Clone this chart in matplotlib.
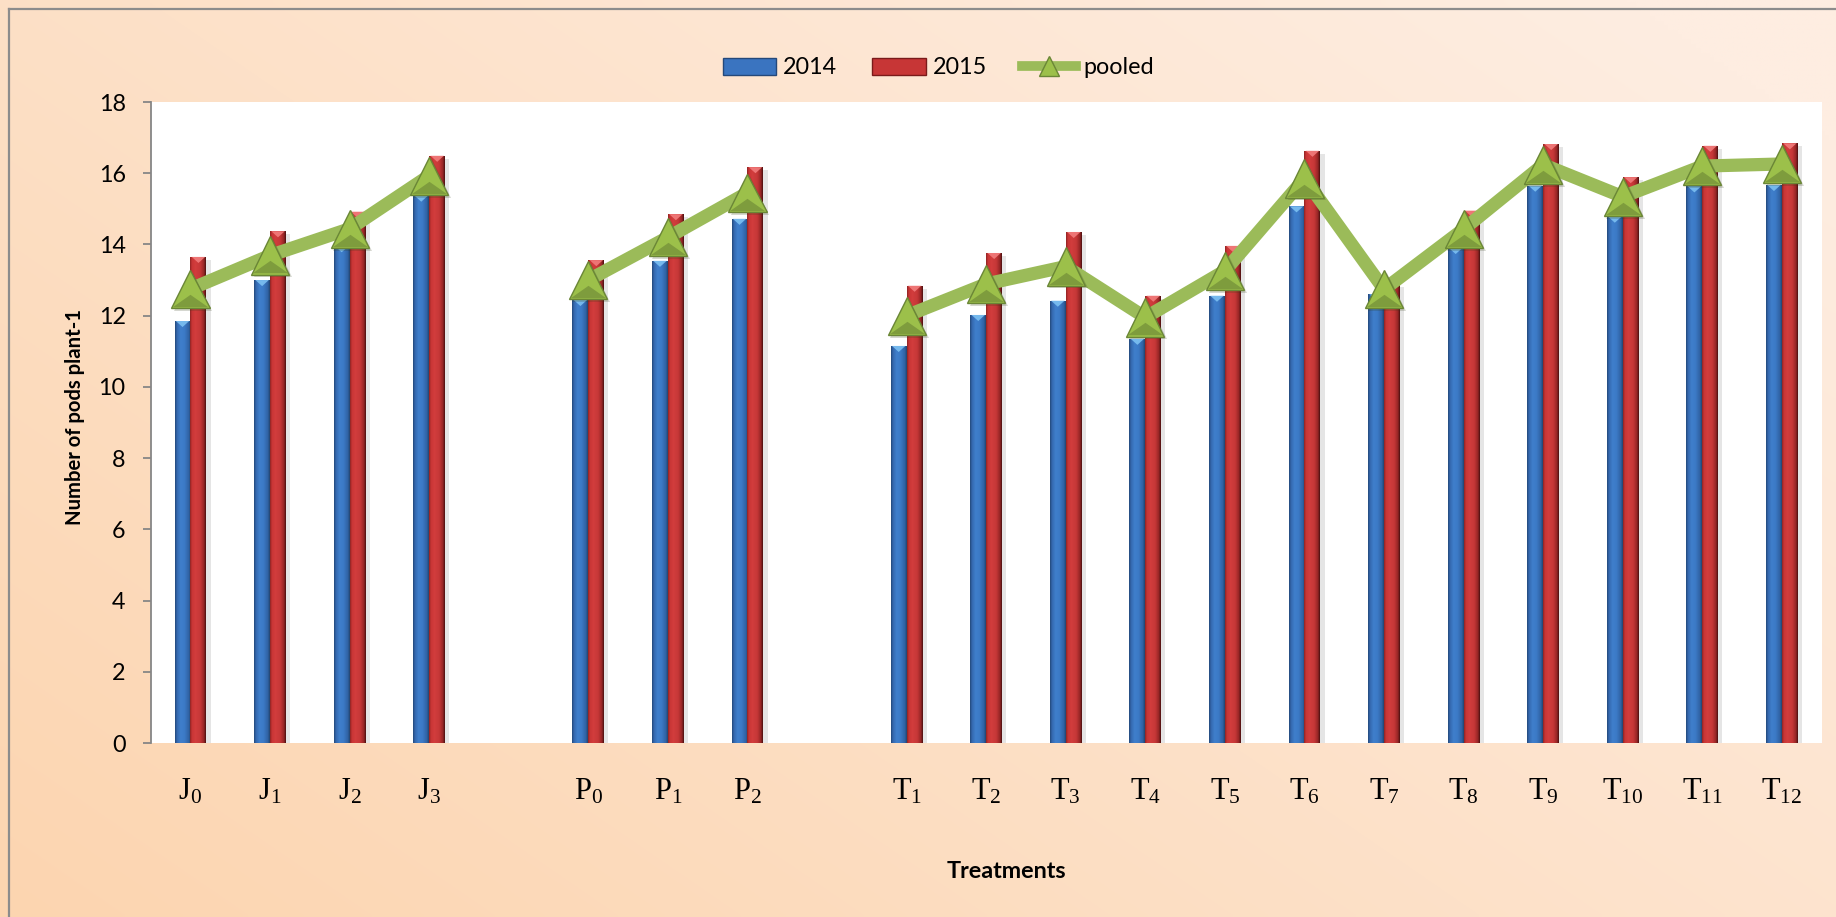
import numpy as np
import matplotlib
matplotlib.use("Agg")
import matplotlib.pyplot as plt
from matplotlib.colors import LinearSegmentedColormap, to_rgb
from matplotlib.patches import Polygon, Patch
from matplotlib.lines import Line2D
from matplotlib.path import Path
import matplotlib.patheffects as pe

# ---------------- data ----------------
treatments = ["J0", "J1", "J2", "J3",
              "P0", "P1", "P2",
              "T1", "T2", "T3", "T4", "T5", "T6", "T7", "T8", "T9", "T10", "T11", "T12"]
pods_2014 = [11.85, 13.00, 13.95, 15.37,
             12.44, 13.54, 14.72,
             11.15, 12.02, 12.42, 11.35, 12.56, 15.07, 12.60, 13.90, 15.65, 14.78, 15.63, 15.67]
pods_2015 = [13.65, 14.37, 14.92, 16.49,
             13.56, 14.85, 16.17,
             12.84, 13.76, 14.35, 12.56, 13.96, 16.63, 12.87, 14.95, 16.82, 15.89, 16.77, 16.84]
pods_pooled = [12.75, 13.69, 14.44, 15.93,
               13.00, 14.20, 15.45,
               12.00, 12.89, 13.38, 11.95, 13.26, 15.85, 12.74, 14.43, 16.24, 15.34, 16.20, 16.26]
series_names = ["2014", "2015", "pooled"]
y_ticks = [0, 2, 4, 6, 8, 10, 12, 14, 16, 18]
y_title = "Number of pods plant-1"
x_title = "Treatments"

# ---------------- fonts ----------------
plt.rcParams["font.family"] = ["Lato", "DejaVu Sans"]
plt.rcParams["mathtext.fontset"] = "custom"
plt.rcParams["mathtext.rm"] = "Liberation Serif"
plt.rcParams["mathtext.it"] = "Liberation Serif:italic"
plt.rcParams["mathtext.bf"] = "Liberation Serif:bold"

# slot positions: one empty slot between treatment families
positions, groups = [], []
slot = 0
prev = None
for name in treatments:
    fam = name[0]
    if prev is None or fam != prev:
        if prev is not None:
            slot += 1
        groups.append([])
    positions.append(slot)
    groups[-1].append(len(positions) - 1)
    slot += 1
    prev = fam
n_slots = slot
positions = np.array(positions, dtype=float)

tick_labels = [r"$\mathrm{%s}_{%s}$" % (t[0], t[1:]) for t in treatments]

W, H = 1836, 917
fig = plt.figure(figsize=(W / 100, H / 100), dpi=100)

# ---------------- background ----------------
bg = fig.add_axes([0, 0, 1, 1], zorder=-10)
xx, yy = np.meshgrid(np.linspace(0, 1, 400), np.linspace(0, 1, 200))
t = np.clip(0.62 * xx + 0.45 * yy, 0, 1)
dark = np.array(to_rgb("#FCD5B0"))
light = np.array(to_rgb("#FEEDE1"))
img = dark[None, None, :] * (1 - t[..., None]) + light[None, None, :] * t[..., None]
bg.imshow(img, origin="lower", extent=(0, 1, 0, 1), aspect="auto", interpolation="bilinear")
bg.set_xlim(0, 1)
bg.set_ylim(0, 1)
bg.axis("off")

# outer chart border (left and top visible)
bx, by = 8.5 / W, 1 - 8.5 / H
fig.add_artist(Line2D([bx, bx], [0, by], transform=fig.transFigure, color="#8C8C8C", lw=1.6))
fig.add_artist(Line2D([bx, 1], [by, by], transform=fig.transFigure, color="#8C8C8C", lw=1.6))

# ---------------- plot area ----------------
left, right, top, bottom = 150.7, 1821.7, 102, 743
ax = fig.add_axes([left / W, 1 - bottom / H, (right - left) / W, (bottom - top) / H])
ax.set_facecolor("white")
ax.set_xlim(-0.5, n_slots - 0.5)
ax.set_ylim(0, 18)

bar_w = 0.2
blue_cmap = LinearSegmentedColormap.from_list(
    "blue3d", [(0, "#23487A"), (0.12, "#3468AE"), (0.35, "#3F7FCC"),
               (0.6, "#3C7AC6"), (0.88, "#3062A3"), (1, "#22446F")])
red_cmap = LinearSegmentedColormap.from_list(
    "red3d", [(0, "#8F2424"), (0.12, "#C93636"), (0.35, "#D23D3D"),
              (0.65, "#C53737"), (0.88, "#962626"), (1, "#4A1010")])
grad = np.linspace(0, 1, 64)[None, :]

shadow = [pe.SimplePatchShadow(offset=(3, -2), shadow_rgbFace="#000000", alpha=0.1), pe.Normal()]

b1 = ax.bar(positions - bar_w / 2, pods_2014, width=bar_w, color="#3A74C0",
            edgecolor="none", zorder=2, path_effects=shadow)
b2 = ax.bar(positions + bar_w / 2, pods_2015, width=bar_w, color="#C73636",
            edgecolor="none", zorder=2, path_effects=shadow)

top_dh = 0.17
for bars, cmap, hl in ((b1, blue_cmap, "#7CC0F2"), (b2, red_cmap, "#F27C7C")):
    for rect in bars:
        x0, w, h = rect.get_x(), rect.get_width(), rect.get_height()
        im = ax.imshow(grad, extent=(x0, x0 + w, 0, h), aspect="auto", cmap=cmap,
                       interpolation="bilinear", zorder=2.1)
        im.set_clip_path(rect)
        tri = Polygon([(x0 + w * 0.08, h), (x0 + w * 0.92, h), (x0 + w / 2, h - top_dh)],
                      closed=True, facecolor=hl, edgecolor="none", zorder=2.3, alpha=0.9)
        ax.add_patch(tri)

# pooled line, broken between treatment families
line_c = "#9BBB59"
ms = 27.5
bevel = Path([(-1, -1), (1, -1), (0, -0.3), (-1, -1)],
             [Path.MOVETO, Path.LINETO, Path.LINETO, Path.CLOSEPOLY])
for g in groups:
    xs = positions[g]
    ys = [pods_pooled[i] for i in g]
    ax.plot(xs, ys, color=line_c, lw=9.5, solid_joinstyle="round", solid_capstyle="round", zorder=3)
    ax.plot(xs, ys, ls="none", marker="^", ms=ms, mfc="#9CC04A", mec="#6A8636", mew=1.0, zorder=4,
            path_effects=[pe.SimplePatchShadow(offset=(2, -2), alpha=0.2), pe.Normal()])
    ax.plot(xs, ys, ls="none", marker=bevel, ms=ms * 0.93, mfc="#7E9C3D", mec="none", zorder=4.1)

ax.set_xlim(-0.5, n_slots - 0.5)
ax.set_ylim(0, 18)

# axes styling
for s in ("top", "right", "bottom"):
    ax.spines[s].set_visible(False)
ax.spines["left"].set_color("#868686")
ax.spines["left"].set_linewidth(1.3)
ax.set_yticks(y_ticks)
ax.set_yticklabels([str(v) for v in y_ticks])
ax.tick_params(axis="y", direction="out", length=6, width=1.3, color="#868686",
               pad=12, labelsize=16.8, labelcolor="black")
ax.set_xticks(positions)
ax.set_xticklabels(tick_labels)
ax.tick_params(axis="x", length=0, pad=24, labelsize=22)

fig.text(75 / W, 1 - 417 / H, y_title, rotation=90, ha="center", va="center",
         fontsize=14.6, fontweight="bold")
fig.text(1006 / W, 1 - 878 / H, x_title, ha="center", va="baseline",
         fontsize=16.8, fontweight="bold")

# legend
handles = [
    Patch(facecolor="#3A74C0", edgecolor="#24487A", linewidth=1.0),
    Patch(facecolor="#C73636", edgecolor="#7A1A1A", linewidth=1.0),
    Line2D([0], [0], color=line_c, lw=7, marker="^", ms=15, mfc="#9CC04A", mec="#6A8636", mew=1.0),
]
fig.legend(handles, series_names, loc="center", bbox_to_anchor=(938 / W, 1 - 68 / H), ncol=3,
           frameon=False, fontsize=16.8, handlelength=2.3, handleheight=0.7,
           handletextpad=0.3, columnspacing=1.5)

fig.savefig("out.png", dpi=100)
